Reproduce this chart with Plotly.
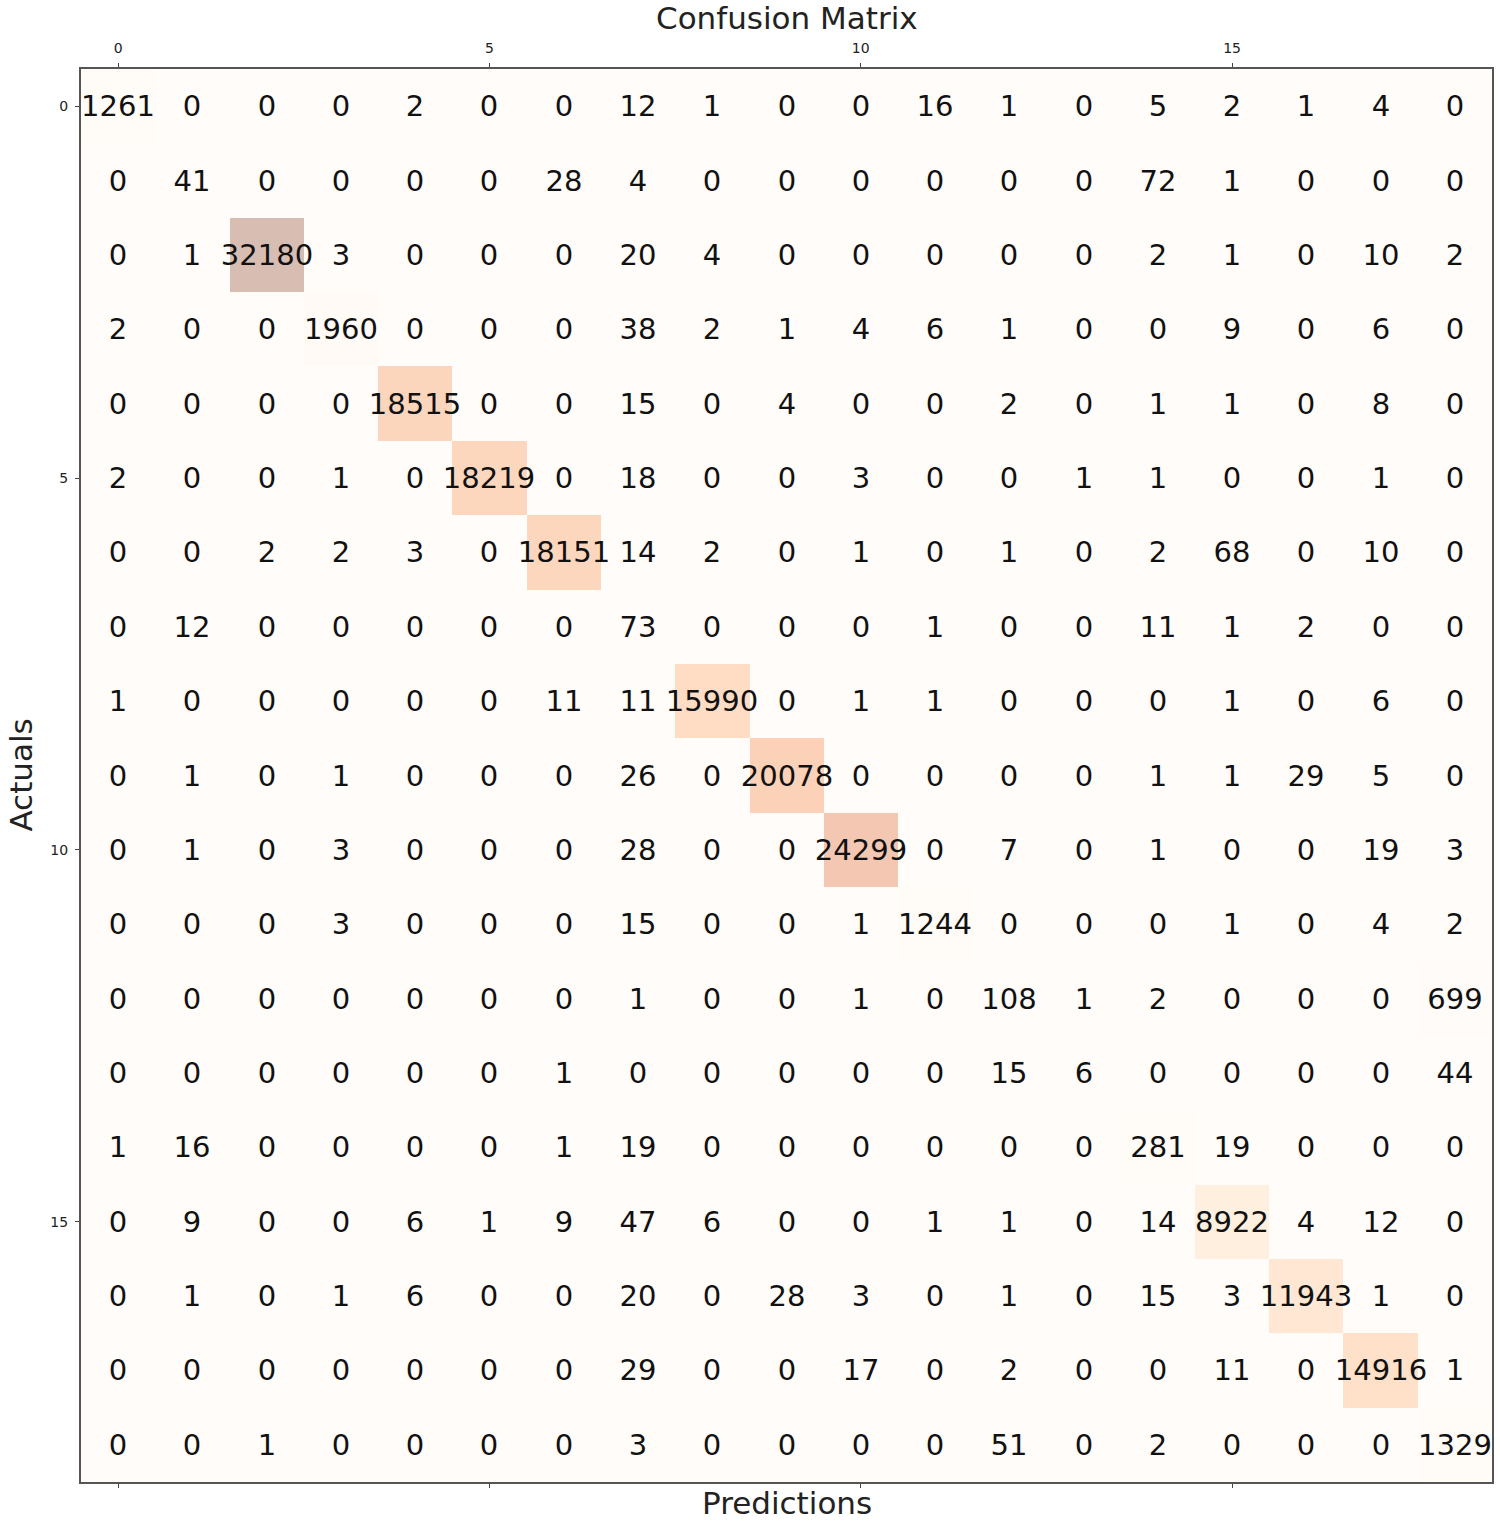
import plotly.graph_objects as go

labels = list(range(19))
matrix = [
    [1261, 0, 0, 0, 2, 0, 0, 12, 1, 0, 0, 16, 1, 0, 5, 2, 1, 4, 0],
    [0, 41, 0, 0, 0, 0, 28, 4, 0, 0, 0, 0, 0, 0, 72, 1, 0, 0, 0],
    [0, 1, 32180, 3, 0, 0, 0, 20, 4, 0, 0, 0, 0, 0, 2, 1, 0, 10, 2],
    [2, 0, 0, 1960, 0, 0, 0, 38, 2, 1, 4, 6, 1, 0, 0, 9, 0, 6, 0],
    [0, 0, 0, 0, 18515, 0, 0, 15, 0, 4, 0, 0, 2, 0, 1, 1, 0, 8, 0],
    [2, 0, 0, 1, 0, 18219, 0, 18, 0, 0, 3, 0, 0, 1, 1, 0, 0, 1, 0],
    [0, 0, 2, 2, 3, 0, 18151, 14, 2, 0, 1, 0, 1, 0, 2, 68, 0, 10, 0],
    [0, 12, 0, 0, 0, 0, 0, 73, 0, 0, 0, 1, 0, 0, 11, 1, 2, 0, 0],
    [1, 0, 0, 0, 0, 0, 11, 11, 15990, 0, 1, 1, 0, 0, 0, 1, 0, 6, 0],
    [0, 1, 0, 1, 0, 0, 0, 26, 0, 20078, 0, 0, 0, 0, 1, 1, 29, 5, 0],
    [0, 1, 0, 3, 0, 0, 0, 28, 0, 0, 24299, 0, 7, 0, 1, 0, 0, 19, 3],
    [0, 0, 0, 3, 0, 0, 0, 15, 0, 0, 1, 1244, 0, 0, 0, 1, 0, 4, 2],
    [0, 0, 0, 0, 0, 0, 0, 1, 0, 0, 1, 0, 108, 1, 2, 0, 0, 0, 699],
    [0, 0, 0, 0, 0, 0, 1, 0, 0, 0, 0, 0, 15, 6, 0, 0, 0, 0, 44],
    [1, 16, 0, 0, 0, 0, 1, 19, 0, 0, 0, 0, 0, 0, 281, 19, 0, 0, 0],
    [0, 9, 0, 0, 6, 1, 9, 47, 6, 0, 0, 1, 1, 0, 14, 8922, 4, 12, 0],
    [0, 1, 0, 1, 6, 0, 0, 20, 0, 28, 3, 0, 1, 0, 15, 3, 11943, 1, 0],
    [0, 0, 0, 0, 0, 0, 0, 29, 0, 0, 17, 0, 2, 0, 0, 11, 0, 14916, 1],
    [0, 0, 1, 0, 0, 0, 0, 3, 0, 0, 0, 0, 51, 0, 2, 0, 0, 0, 1329],
]
tick_vals = [0, 5, 10, 15]

text = [[str(v) for v in row] for row in matrix]

oranges = ['#fff5eb', '#fee6ce', '#fdd0a2', '#fdae6b', '#fd8d3c',
           '#f16913', '#d94801', '#a63603', '#7f2704']
cscale = [[i / (len(oranges) - 1), c] for i, c in enumerate(oranges)]

fig = go.Figure(go.Heatmap(
    z=matrix, x=labels, y=labels,
    colorscale=cscale, opacity=0.3, showscale=False,
    text=text, texttemplate="%{text}",
    textfont=dict(family="DejaVu Sans", size=29, color="#111"),
    hoverinfo="skip",
))

axis_common = dict(
    tickvals=tick_vals, ticks="outside", ticklen=4, tickwidth=1,
    tickcolor="#444", showgrid=False, zeroline=False,
    showline=True, linecolor="#555", linewidth=2,
    ticklabelstandoff=4,
    tickfont=dict(family="DejaVu Sans", size=14, color="#222"),
)

fig.update_xaxes(range=[-0.5, 18.5], side="top", mirror="ticks", **axis_common)
fig.update_yaxes(range=[18.5, -0.5], mirror=True, **axis_common)

fig.update_layout(
    width=1500, height=1521,
    margin=dict(l=81, r=6, t=69, b=39),
    paper_bgcolor="white", plot_bgcolor="white",
    font=dict(family="DejaVu Sans", color="#222"),
    annotations=[
        dict(text="Confusion Matrix", xref="paper", yref="paper", x=0.5, y=1.0361,
             showarrow=False, font=dict(size=31, family="DejaVu Sans", color="#222"),
             xanchor="center", yanchor="middle"),
        dict(text="Predictions", xref="paper", yref="paper", x=0.5, y=-0.0149,
             showarrow=False, font=dict(size=31, family="DejaVu Sans", color="#222"),
             xanchor="center", yanchor="middle"),
        dict(text="Actuals", xref="paper", yref="paper", x=-0.0432, y=0.5,
             showarrow=False, textangle=-90,
             font=dict(size=31, family="DejaVu Sans", color="#222"),
             xanchor="center", yanchor="middle"),
    ],
)

fig.write_html("out.html", config={"displayModeBar": False},
               post_script="document.body.style.margin='0';")
